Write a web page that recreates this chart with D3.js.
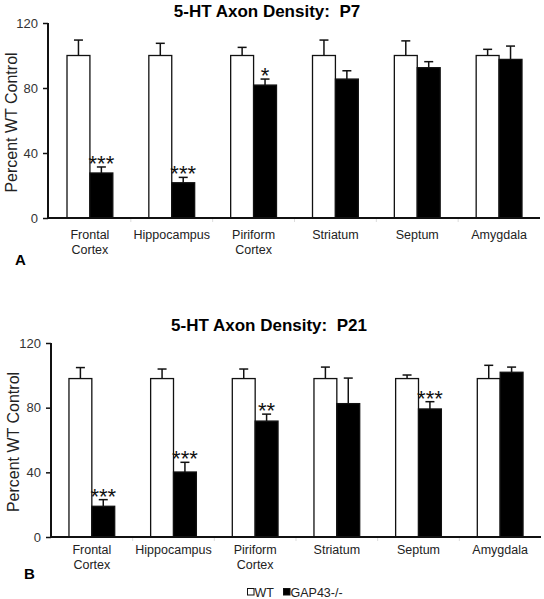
<!DOCTYPE html>
<html>
<head>
<meta charset="utf-8">
<script src="https://cdn.jsdelivr.net/npm/d3@7/dist/d3.min.js"></script>
<style>
  html, body { margin: 0; padding: 0; background: #ffffff; }
  svg { display: block; font-family: Arial, "Liberation Sans", sans-serif; }
</style>
</head>
<body>
<svg id="chart" width="544" height="599"></svg>
<script>
// ---- data ----
const regions = [["Frontal", "Cortex"], ["Hippocampus"], ["Piriform", "Cortex"], ["Striatum"], ["Septum"], ["Amygdala"]];
const seriesNames = ["WT", "GAP43-/-"];
const yTicks = [0, 40, 80, 120];

const p7WT      = [100, 100, 100, 100, 100, 100];
const p7WTErr   = [109.5, 107.5, 105, 109.5, 109, 103.8];
const p7GAP     = [27.7, 21.7, 81.8, 85.5, 92.5, 97.6];
const p7GAPErr  = [31.4, 25, 85.5, 90.6, 96.2, 105.8];
const p7Sig     = ["***", "***", "*", "", "", ""];

const p21WT     = [98, 98, 98, 98, 98, 98];
const p21WTErr  = [104.8, 103.9, 103.9, 105.1, 100.2, 106.2];
const p21GAP    = [19, 40.2, 71.7, 82.5, 79.2, 101.9];
const p21GAPErr = [23.1, 46.2, 76, 98.3, 83.7, 105.1];
const p21Sig    = ["***", "***", "**", "", "***", ""];

const svg = d3.select("#chart");

function panel(cfg) {
  const g = svg.append("g");
  const x0 = d3.scaleBand().domain(d3.range(regions.length)).range([cfg.x0, cfg.x1]).padding(0);
  const bw = x0.bandwidth();
  const x1 = d3.scaleBand().domain(seriesNames).range([bw * 0.22, bw * 0.78]).padding(0);
  const y = d3.scaleLinear().domain([0, 120]).range([cfg.yBottom, cfg.yTop]);

  // title
  g.append("text")
    .attr("x", cfg.titleX).attr("y", cfg.titleY)
    .attr("text-anchor", "middle")
    .attr("font-size", 17).attr("font-weight", "bold")
    .style("white-space", "pre")
    .text(cfg.title);

  // y label
  g.append("text")
    .attr("transform", `translate(${cfg.yLabelX},${(cfg.yBottom + cfg.yTop) / 2 + 2}) rotate(-90)`)
    .attr("text-anchor", "middle")
    .attr("font-size", 16)
    .attr("fill", "#222")
    .text("Percent WT Control");

  // panel letter
  g.append("text")
    .attr("x", cfg.letterX).attr("y", cfg.letterY)
    .attr("font-size", 15).attr("font-weight", "bold")
    .text(cfg.letter);

  const data = regions.map((r, i) => ({
    i,
    vals: [
      { s: "WT", v: cfg.wt[i], e: cfg.wtErr[i] },
      { s: "GAP43-/-", v: cfg.gap[i], e: cfg.gapErr[i] }
    ],
    sig: cfg.sig[i]
  }));

  const groups = g.selectAll("g.grp").data(data).join("g")
    .attr("class", "grp")
    .attr("transform", d => `translate(${x0(d.i)},0)`);

  // error bars (behind bars)
  groups.selectAll("g.err").data(d => d.vals).join("g").attr("class", "err")
    .each(function (d) {
      const cx = x1(d.s) + x1.bandwidth() / 2;
      const sel = d3.select(this);
      sel.append("line").attr("x1", cx).attr("x2", cx)
        .attr("y1", y(d.v)).attr("y2", y(d.e))
        .attr("stroke", "#111").attr("stroke-width", 1.5);
      sel.append("line").attr("x1", cx - 4.5).attr("x2", cx + 4.5)
        .attr("y1", y(d.e)).attr("y2", y(d.e))
        .attr("stroke", "#111").attr("stroke-width", 1.5);
    });

  groups.selectAll("rect").data(d => d.vals).join("rect")
    .attr("x", d => x1(d.s))
    .attr("y", d => y(d.v))
    .attr("width", x1.bandwidth())
    .attr("height", d => y(0) - y(d.v))
    .attr("fill", d => d.s === "WT" ? "#ffffff" : "#000000")
    .attr("stroke", "#111")
    .attr("stroke-width", 1.3);

  // significance stars
  groups.append("text")
    .attr("x", d => x1("GAP43-/-") + x1.bandwidth() / 2)
    .attr("y", d => y(d.vals[1].e) + 4)
    .attr("text-anchor", "middle")
    .attr("font-size", 22)
    .attr("fill", "#111")
    .text(d => d.sig);

  // x axis line
  g.append("line")
    .attr("x1", cfg.axisX).attr("x2", cfg.x1)
    .attr("y1", y(0)).attr("y2", y(0))
    .attr("stroke", "#111").attr("stroke-width", 2);

  // faint separators
  g.selectAll("line.sep").data(d3.range(1, regions.length)).join("line")
    .attr("class", "sep")
    .attr("x1", d => x0(d)).attr("x2", d => x0(d))
    .attr("y1", y(0) + 1).attr("y2", y(0) + 4)
    .attr("stroke", "#ddd").attr("stroke-width", 1);

  // category labels
  groups.append("text")
    .attr("text-anchor", "middle")
    .attr("font-size", 12.5)
    .attr("fill", "#222")
    .attr("transform", d => `translate(${bw / 2},${cfg.labelY})`)
    .selectAll("tspan").data(d => regions[d.i]).join("tspan")
    .attr("x", 0)
    .attr("dy", (d, k) => k === 0 ? 0 : 14.5)
    .text(d => d);

  // y axis
  const ax = g.append("g")
    .attr("transform", `translate(${cfg.axisX},0)`)
    .call(d3.axisLeft(y).tickValues(yTicks).tickSize(5).tickPadding(5).tickFormat(d3.format("d")));
  ax.select(".domain").attr("stroke", "#111").attr("stroke-width", 2)
    .attr("d", `M0,${y(120)}V${y(0)}`);
  ax.selectAll(".tick line").attr("stroke", "#111").attr("stroke-width", 1.5);
  ax.selectAll(".tick text").attr("font-size", 13).attr("fill", "#333")
    .attr("font-family", "Arial, 'Liberation Sans', sans-serif");
}

panel({
  title: "5-HT Axon Density:  P7", titleX: 267, titleY: 17,
  letter: "A", letterX: 15, letterY: 265,
  x0: 49, x1: 540, axisX: 48, yBottom: 218, yTop: 23,
  yLabelX: 17, labelY: 239,
  wt: p7WT, wtErr: p7WTErr, gap: p7GAP, gapErr: p7GAPErr, sig: p7Sig
});

panel({
  title: "5-HT Axon Density:  P21", titleX: 269, titleY: 331,
  letter: "B", letterX: 24, letterY: 579,
  x0: 51, x1: 541, axisX: 51, yBottom: 537, yTop: 343,
  yLabelX: 19, labelY: 554,
  wt: p21WT, wtErr: p21WTErr, gap: p21GAP, gapErr: p21GAPErr, sig: p21Sig
});

// legend
const legend = svg.append("g").attr("transform", "translate(247,597)");
const legendItems = [
  { name: seriesNames[0], fill: "#ffffff", x: 0 },
  { name: seriesNames[1], fill: "#000000", x: 36 }
];
legend.selectAll("rect").data(legendItems).join("rect")
  .attr("x", d => d.x + 0.5).attr("y", -8.5)
  .attr("width", 6.5).attr("height", 6.5)
  .attr("fill", d => d.fill).attr("stroke", "#111").attr("stroke-width", 1);
legend.selectAll("text").data(legendItems).join("text")
  .attr("x", d => d.x + 7.5).attr("y", 0)
  .attr("font-size", 12.5).attr("fill", "#222")
  .text(d => d.name);
</script>
</body>
</html>
